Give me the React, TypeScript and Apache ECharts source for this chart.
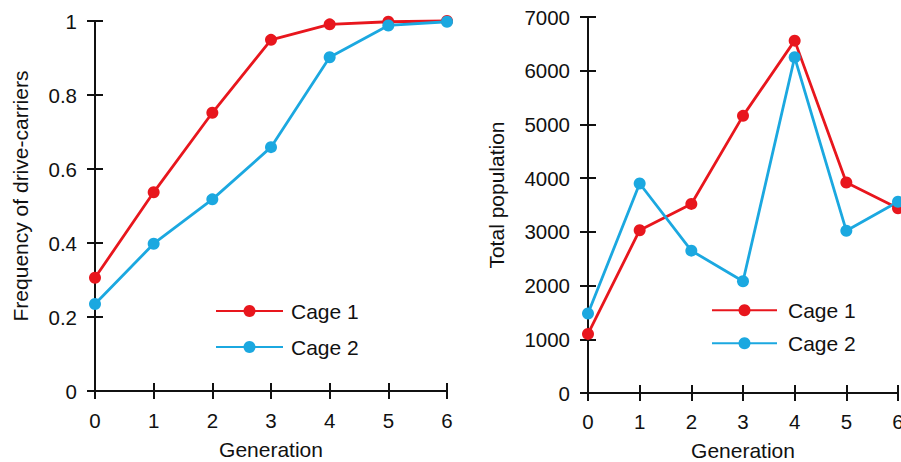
import React, { useEffect, useRef } from "react";
import * as echarts from "echarts";

const generations = [0, 1, 2, 3, 4, 5, 6];
const freqCage1 = [0.306, 0.537, 0.752, 0.949, 0.991, 0.998, 1.0];
const freqCage2 = [0.235, 0.398, 0.518, 0.659, 0.902, 0.988, 0.998];
const popCage1 = [1100, 3030, 3520, 5160, 6560, 3920, 3440];
const popCage2 = [1480, 3900, 2650, 2080, 6250, 3020, 3560];
const seriesNames = ["Cage 1", "Cage 2"];
const colors = ["#e8161d", "#1ba8e0"];

const FONT = "'Liberation Sans', Arial, Helvetica, sans-serif";

function pairs(ys: number[]) {
  return generations.map((g, i) => [g, ys[i]]);
}

export default function App() {
  const ref = useRef<HTMLDivElement>(null);
  useEffect(() => {
    if (!ref.current) return;
    const chart = echarts.init(ref.current, null, { renderer: "svg" });
    const axisLine = () => ({ show: true, onZero: false, lineStyle: { color: "#111", width: 2 } });
    const tick = (inside: boolean) => ({ show: true, inside, length: 8, lineStyle: { color: "#111", width: 2 } });
    const labelStyle = { color: "#111", fontSize: 20.5, fontFamily: FONT };
    const nameStyle = { color: "#111", fontSize: 21, fontFamily: FONT };

    const makeX = (gridIndex: number, inside: boolean, margin: number, nameGap: number) => {
      const ax: any = {
        type: "value",
        gridIndex,
        min: 0,
        max: 6,
        interval: 1,
        position: "bottom",
        axisLine: axisLine(),
        axisTick: tick(inside),
        splitLine: { show: false },
      };
      if (inside) {
        ax.axisLabel = { show: false };
      } else {
        ax.name = "Generation";
        ax.nameLocation = "middle";
        ax.nameGap = nameGap;
        ax.nameTextStyle = nameStyle;
        ax.axisLabel = { margin, ...labelStyle };
      }
      return ax;
    };
    const makeY = (
      gridIndex: number,
      inside: boolean,
      max: number,
      interval: number,
      name: string,
      nameGap: number,
      shift: number,
      fmt: (v: number) => string
    ) => {
      const ax: any = {
        type: "value",
        gridIndex,
        min: 0,
        max,
        interval,
        position: "left",
        axisLine: axisLine(),
        axisTick: tick(inside),
        splitLine: { show: false },
      };
      if (inside) {
        ax.axisLabel = { show: false };
      } else {
        ax.name = name;
        ax.nameLocation = "middle";
        ax.nameGap = nameGap;
        ax.nameTextStyle = { ...nameStyle, padding: [0, 0, 0, shift] };
        ax.axisLabel = { margin: 18, formatter: fmt, ...labelStyle };
      }
      return ax;
    };

    const freqFmt = (v: number) => (v === 0 || v === 1 ? String(v) : v.toFixed(1));
    const popFmt = (v: number) => String(v);

    const mkSeries = (name: string, data: number[], color: string, axisIdx: number) => ({
      type: "line",
      name,
      xAxisIndex: axisIdx,
      yAxisIndex: axisIdx,
      data: pairs(data),
      symbol: "circle",
      symbolSize: 12,
      itemStyle: { color },
      lineStyle: { color, width: 2.8 },
      clip: false,
    });

    chart.setOption({
      animation: false,
      backgroundColor: "#ffffff",
      grid: [
        { left: 95, top: 21, width: 352, height: 370, outerBoundsMode: "none" },
        { left: 588, top: 17, width: 310, height: 376, outerBoundsMode: "none" },
      ],
      xAxis: [
        makeX(0, false, 19, 48),
        makeX(0, true, 19, 48),
        makeX(1, false, 18, 47),
        makeX(1, true, 18, 47),
      ],
      yAxis: [
        makeY(0, false, 1, 0.2, "Frequency of drive-carriers", 64, 20, freqFmt),
        makeY(0, true, 1, 0.2, "", 64, 0, freqFmt),
        makeY(1, false, 7000, 1000, "Total population", 81, 20, popFmt),
        makeY(1, true, 7000, 1000, "", 81, 0, popFmt),
      ],
      legend: [
        {
          orient: "vertical",
          left: 210,
          top: 295.5,
          itemWidth: 67,
          itemHeight: 15,
          itemGap: 15,
          data: seriesNames,
          textStyle: { color: "#111", fontSize: 21, fontFamily: FONT, padding: [0, 0, 0, 3] },
          selectedMode: false,
        },
        {
          orient: "vertical",
          left: 706,
          top: 294.7,
          itemWidth: 65,
          itemHeight: 15,
          itemGap: 12,
          data: seriesNames,
          textStyle: { color: "#111", fontSize: 21, fontFamily: FONT, padding: [0, 0, 0, 6] },
          selectedMode: false,
        },
      ],
      series: [
        mkSeries(seriesNames[0], freqCage1, colors[0], 0),
        mkSeries(seriesNames[1], freqCage2, colors[1], 0),
        mkSeries(seriesNames[0], popCage1, colors[0], 2),
        mkSeries(seriesNames[1], popCage2, colors[1], 2),
      ],
    });
    return () => chart.dispose();
  }, []);
  return (
    <div
      ref={ref}
      style={{ position: "fixed", left: 0, top: 0, width: 901, height: 462, background: "#fff" }}
    />
  );
}
